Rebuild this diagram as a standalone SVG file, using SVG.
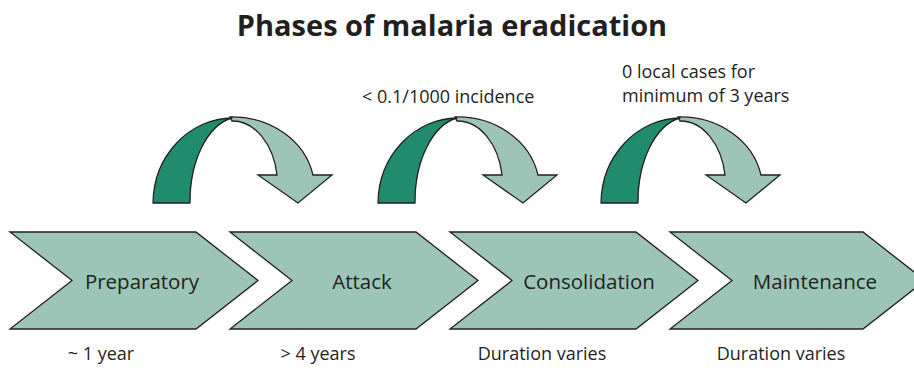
<svg xmlns="http://www.w3.org/2000/svg" width="914" height="368" viewBox="0 0 914 368">
  <defs>
    <style>
      .chev { fill: #9cc5b7; stroke: #231f20; stroke-width: 1.3; stroke-linejoin: miter; }
      .dark { fill: #218b6d; stroke: #231f20; stroke-width: 1.3; stroke-linejoin: round; }
      .light { fill: #9cc5b7; stroke: #231f20; stroke-width: 1.3; stroke-linejoin: miter; }
      text { font-family: "Open Sans", "Noto Sans", "Liberation Sans", sans-serif; fill: #231f20; }
      .title { font-size: 29px; font-weight: bold; }
      .lbl { font-size: 20.5px; text-anchor: middle; }
      .sub { font-size: 18px; text-anchor: middle; }
      .note { font-size: 18px; }
    </style>
    <g id="curve">
      <path class="light" d="M230,117 A82,73 0 0 1 313,175 L332,175 L298,203 L258,175 L277,175 A45,64 0 0 0 232,121 Z"/>
      <path class="dark" d="M153,203 A80,86 0 0 1 232,118 A50,85 0 0 0 190,203 Z"/>
    </g>
  </defs>
  <rect width="914" height="368" fill="#ffffff"/>
  <text class="title" x="452" y="36" text-anchor="middle">Phases of malaria eradication</text>

  <g id="connectors">
    <use href="#curve" x="0" y="0"/>
    <use href="#curve" x="225" y="0"/>
    <use href="#curve" x="448" y="0"/>
  </g>

  <g id="transitions">
    <text class="note" x="362" y="103">&lt; 0.1/1000 incidence</text>
    <text class="note" x="622" y="78">0 local cases for</text>
    <text class="note" x="622" y="102">minimum of 3 years</text>
  </g>

  <g id="preparatory">
    <path class="chev" d="M10,232 L196,232 L258,280.5 L196,329 L10,329 L72,280.5 Z"/>
    <text class="lbl" x="142" y="289">Preparatory</text>
    <text class="sub" x="101" y="360">~ 1 year</text>
  </g>
  <g id="attack">
    <path class="chev" d="M230,232 L416,232 L478,280.5 L416,329 L230,329 L292,280.5 Z"/>
    <text class="lbl" x="362" y="289">Attack</text>
    <text class="sub" x="318" y="360">&gt; 4 years</text>
  </g>
  <g id="consolidation">
    <path class="chev" d="M450,232 L636,232 L698,280.5 L636,329 L450,329 L512,280.5 Z"/>
    <text class="lbl" x="589" y="289">Consolidation</text>
    <text class="sub" x="542" y="360">Duration varies</text>
  </g>
  <g id="maintenance">
    <path class="chev" d="M670,232 L863,232 L925,280.5 L863,329 L670,329 L732,280.5 Z"/>
    <text class="lbl" x="815" y="289">Maintenance</text>
    <text class="sub" x="781" y="360">Duration varies</text>
  </g>
</svg>
